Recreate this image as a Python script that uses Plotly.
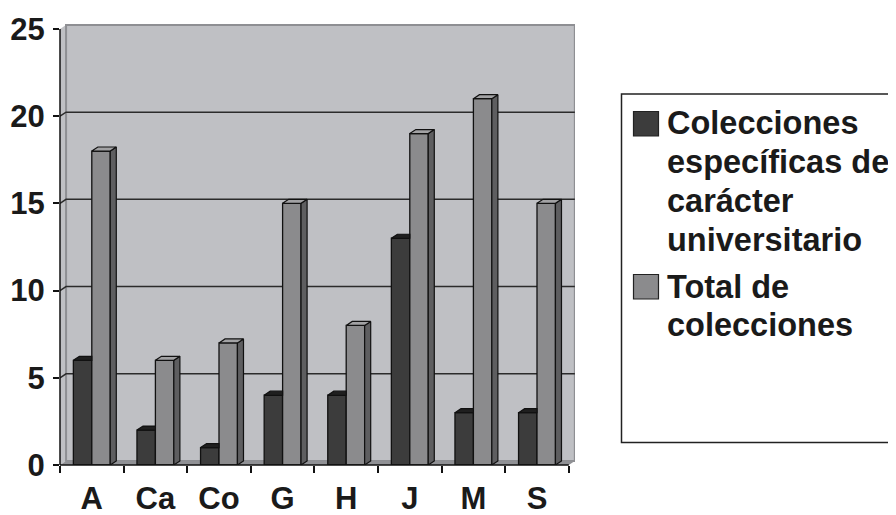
import plotly.graph_objects as go

# ---- data ----
categories = ["A", "Ca", "Co", "G", "H", "J", "M", "S"]
especificas = [6, 2, 1, 4, 4, 13, 3, 3]
total = [18, 6, 7, 15, 8, 19, 21, 15]
series_names = ["Colecciones específicas de carácter universitario", "Total de colecciones"]
legend_lines = [["Colecciones", "específicas de", "carácter", "universitario"],
                ["Total de", "colecciones"]]
y_ticks = [0, 5, 10, 15, 20, 25]

# ---- style / geometry ----
OFF = 8                       # default page body margin
FIG_W, FIG_H = 896, 515
L, T, W, H = 60 - OFF, 23 - OFF, 515, 442
XR = [-0.5, 7.5975]
YR = [0, 25.34]
DX, DY = 0.095, 0.23          # 3D depth in data units
BW = 0.29                     # bar width
C_DARK, C_DARK_TOP = "#3c3c3c", "#1f1f1f"
C_GRAY, C_GRAY_SIDE, C_GRAY_TOP = "#8b8b8d", "#5e5e60", "#a2a2a4"
C_WALL, C_WALL_EDGE, C_FLOOR = "#bfc0c4", "#8e8f93", "#909195"
FONT = "Liberation Sans, Arial, sans-serif"
TXT = "#1a1a1a"

idx = list(range(len(categories)))

fig = go.Figure()

# front faces
fig.add_trace(go.Bar(x=idx, y=especificas, width=BW, offset=-BW, name=series_names[0],
                     marker=dict(color=C_DARK, line=dict(color="#111", width=1.3)),
                     showlegend=False, hoverinfo="skip"))
fig.add_trace(go.Bar(x=idx, y=total, width=BW, offset=0, name=series_names[1],
                     marker=dict(color=C_GRAY, line=dict(color="#111", width=1.3)),
                     showlegend=False, hoverinfo="skip"))

# 3D faces
def poly_trace(xs, ys, color):
    return go.Scatter(x=xs, y=ys, mode="lines", fill="toself", fillcolor=color,
                      line=dict(color="#111", width=1.2), showlegend=False,
                      hoverinfo="skip")

dtx, dty = [], []   # dark tops
dsx, dsy = [], []   # dark sides (only where visible)
gtx, gty = [], []
gsx, gsy = [], []
for i, d, g in zip(idx, especificas, total):
    x0, x1 = i - BW, i
    if d > g:
        dtx += [x0, x0 + DX, x1 + DX, x1, x0, None]
        dty += [d, d + DY, d + DY, d, d, None]
        dsx += [x1, x1, x1 + DX, x1 + DX, x1, None]
        dsy += [g, d, d + DY, g + DY, g, None]
    else:
        dtx += [x0, x0 + DX, x1, x1, x0, None]
        dty += [d, d + DY, d + DY, d, d, None]
    g0, g1 = i, i + BW
    gtx += [g0, g0 + DX, g1 + DX, g1, g0, None]
    gty += [g, g + DY, g + DY, g, g, None]
    gsx += [g1, g1, g1 + DX, g1 + DX, g1, None]
    gsy += [0, g, g + DY, DY, 0, None]

fig.add_trace(poly_trace(dtx, dty, C_DARK_TOP))
if dsx:
    fig.add_trace(poly_trace(dsx, dsy, "#2a2a2a"))
fig.add_trace(poly_trace(gsx, gsy, C_GRAY_SIDE))
fig.add_trace(poly_trace(gtx, gty, C_GRAY_TOP))

shapes = []
xa, xb = -0.5, 7.5
top = y_ticks[-1]
# back wall
shapes.append(dict(type="rect", xref="x", yref="y", x0=xa + DX, x1=xb + DX, y0=DY, y1=top + DY,
                   fillcolor=C_WALL, line=dict(color=C_WALL_EDGE, width=2), layer="below"))
# side wall
shapes.append(dict(type="path", xref="x", yref="y",
                   path=f"M{xa},0 L{xa},{top} L{xa+DX},{top+DY} L{xa+DX},{DY} Z",
                   fillcolor=C_WALL, line=dict(width=0), layer="below"))
shapes.append(dict(type="line", xref="x", yref="y", x0=xa + DX, x1=xa + DX, y0=DY, y1=top + DY,
                   line=dict(color=C_WALL_EDGE, width=2), layer="below"))
# floor
shapes.append(dict(type="path", xref="x", yref="y",
                   path=f"M{xa},0 L{xb},0 L{xb+DX},{DY} L{xa+DX},{DY} Z",
                   fillcolor=C_FLOOR, line=dict(width=0), layer="below"))
# gridlines on wall
for v in y_ticks[1:-1]:
    shapes.append(dict(type="path", xref="x", yref="y",
                       path=f"M{xa},{v} L{xa+DX},{v+DY} L{xb+DX},{v+DY}",
                       line=dict(color="#2b2b2b", width=1.5), layer="below"))
# axis lines
shapes.append(dict(type="line", xref="paper", yref="y", x0=0, x1=0, y0=0, y1=top,
                   line=dict(color="#111", width=1.5)))
shapes.append(dict(type="line", xref="x", yref="paper", x0=xa, x1=xb, y0=0, y1=0,
                   line=dict(color="#111", width=1.5)))

# ---- custom legend (positions in page pixels) ----
def px(x):
    return (x - OFF - L) / W

def py(y):
    return (T + H + OFF - y) / H

shapes.append(dict(type="rect", xref="paper", yref="paper", x0=px(621.5), x1=px(905),
                   y0=py(442.5), y1=py(94), line=dict(color="#222", width=1.5),
                   fillcolor="rgba(0,0,0,0)"))
annotations = []
sw_colors = [C_DARK, C_GRAY]
first_baselines = [135, 298]
LINE_GAP = 38.8
FS = 32.5
for k, lines in enumerate(legend_lines):
    b0 = first_baselines[k]
    shapes.append(dict(type="rect", xref="paper", yref="paper", x0=px(633.5), x1=px(658.5),
                       y0=py(b0 + 1), y1=py(b0 - 23.5), fillcolor=sw_colors[k],
                       line=dict(color="#222", width=1.2)))
    for j, t in enumerate(lines):
        base = b0 + j * LINE_GAP
        annotations.append(dict(xref="paper", yref="paper", x=px(665), y=py(base - 11.5),
                                text=t, showarrow=False, xanchor="left", yanchor="middle",
                                font=dict(family=FONT, size=FS, color=TXT, weight="bold")))

fig.update_layout(
    width=FIG_W, height=FIG_H,
    margin=dict(l=L, r=FIG_W - L - W, t=T, b=FIG_H - T - H),
    paper_bgcolor="white", plot_bgcolor="white",
    barmode="overlay",
    shapes=shapes, annotations=annotations,
    xaxis=dict(range=XR, tickmode="array", tickvals=idx, ticktext=categories,
               ticks="", showgrid=False, zeroline=False, showline=False, automargin=False,
               tickfont=dict(family=FONT, size=31, color=TXT, weight="bold"),
               ticklabelstandoff=12,
               minor=dict(tickmode="array", tickvals=[i - 0.5 for i in idx] + [idx[-1] + 0.5],
                          ticks="outside", ticklen=7, tickwidth=1.5, tickcolor="#111",
                          showgrid=False)),
    yaxis=dict(range=YR, tickmode="array", tickvals=y_ticks, ticks="outside",
               ticklen=6, tickwidth=1.5, tickcolor="#111", automargin=False,
               showgrid=False, zeroline=False, showline=False,
               tickfont=dict(family=FONT, size=31, color=TXT, weight="bold"),
               ticklabelstandoff=2),
)

fig.write_html("out.html")
